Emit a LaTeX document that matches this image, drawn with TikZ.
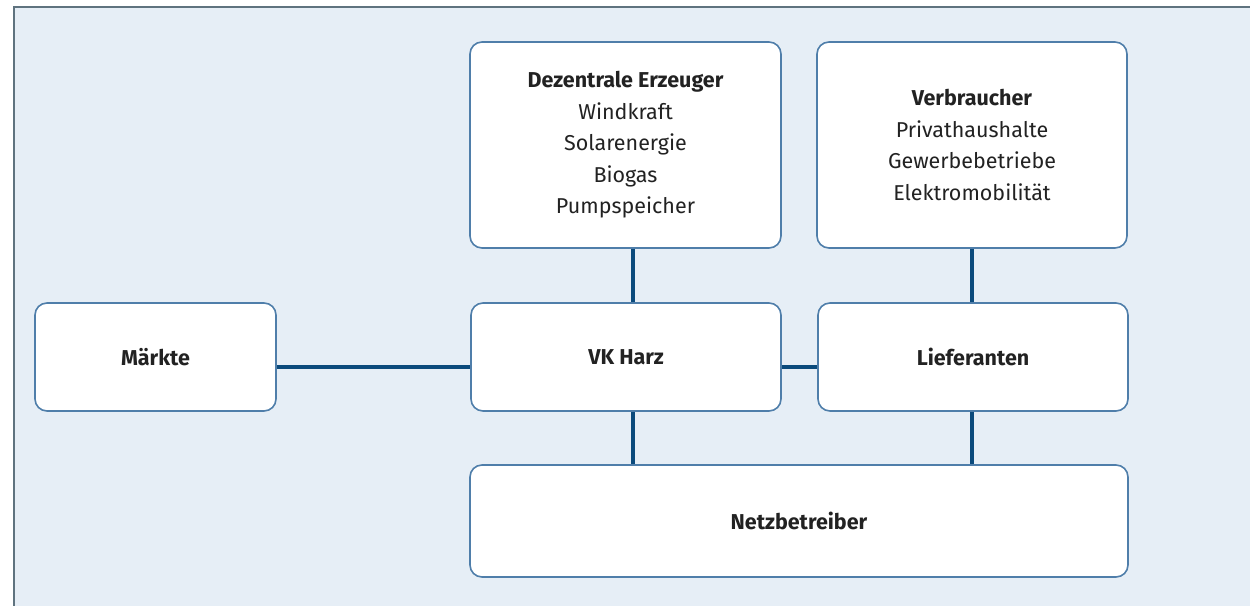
\documentclass[tikz,border=0pt]{standalone}
\usepackage{fontspec}
\setmainfont{Fira Sans}
\definecolor{bg}{HTML}{E6EEF6}
\definecolor{frame}{HTML}{5F737F}
\definecolor{boxline}{HTML}{4F7EAA}
\definecolor{conn}{HTML}{0B4A7C}
\definecolor{txt}{HTML}{222222}
\begin{document}
\begin{tikzpicture}[x=1pt,y=-1pt,
  box/.style={draw=boxline,line width=1.6pt,fill=white,rounded corners=12pt,inner sep=0pt,text=txt,align=center,font=\fontsize{21.5}{31.5}\selectfont},
  conline/.style={draw=conn,line width=3.2pt}]
\useasboundingbox (0,0) rectangle (1250,605);
\clip (0,0) rectangle (1250,605);
\fill[white] (0,0) rectangle (1250,605);
\draw[fill=bg,draw=frame,line width=2.2pt] (14,7) rectangle (1270,625);
\node[box,minimum width=311pt,minimum height=206pt] (dez) at (625.5,145) {\textbf{Dezentrale Erzeuger}\\Windkraft\\Solarenergie\\Biogas\\Pumpspeicher};
\node[box,minimum width=310pt,minimum height=206pt] (ver) at (972,145) {\textbf{Verbraucher}\\Privathaushalte\\Gewerbebetriebe\\Elektromobilität};
\node[box,minimum width=241pt,minimum height=108pt] (mar) at (155.5,357) {\textbf{Märkte}};
\node[box,minimum width=310pt,minimum height=108pt] (vk) at (626,357) {\textbf{VK Harz}};
\node[box,minimum width=310pt,minimum height=108pt] (lie) at (973,357) {\textbf{Lieferanten}};
\node[box,minimum width=658pt,minimum height=112pt] (netz) at (799,521) {\textbf{Netzbetreiber}};
\coordinate (a) at (633,0);
\coordinate (b) at (972,0);
\coordinate (c) at (0,367);
\draw[conline] (dez.south -| a) -- (vk.north -| a);
\draw[conline] (ver.south -| b) -- (lie.north -| b);
\draw[conline] (mar.east |- c) -- (vk.west |- c);
\draw[conline] (vk.east |- c) -- (lie.west |- c);
\draw[conline] (vk.south -| a) -- (netz.north -| a);
\draw[conline] (lie.south -| b) -- (netz.north -| b);
\end{tikzpicture}
\end{document}
